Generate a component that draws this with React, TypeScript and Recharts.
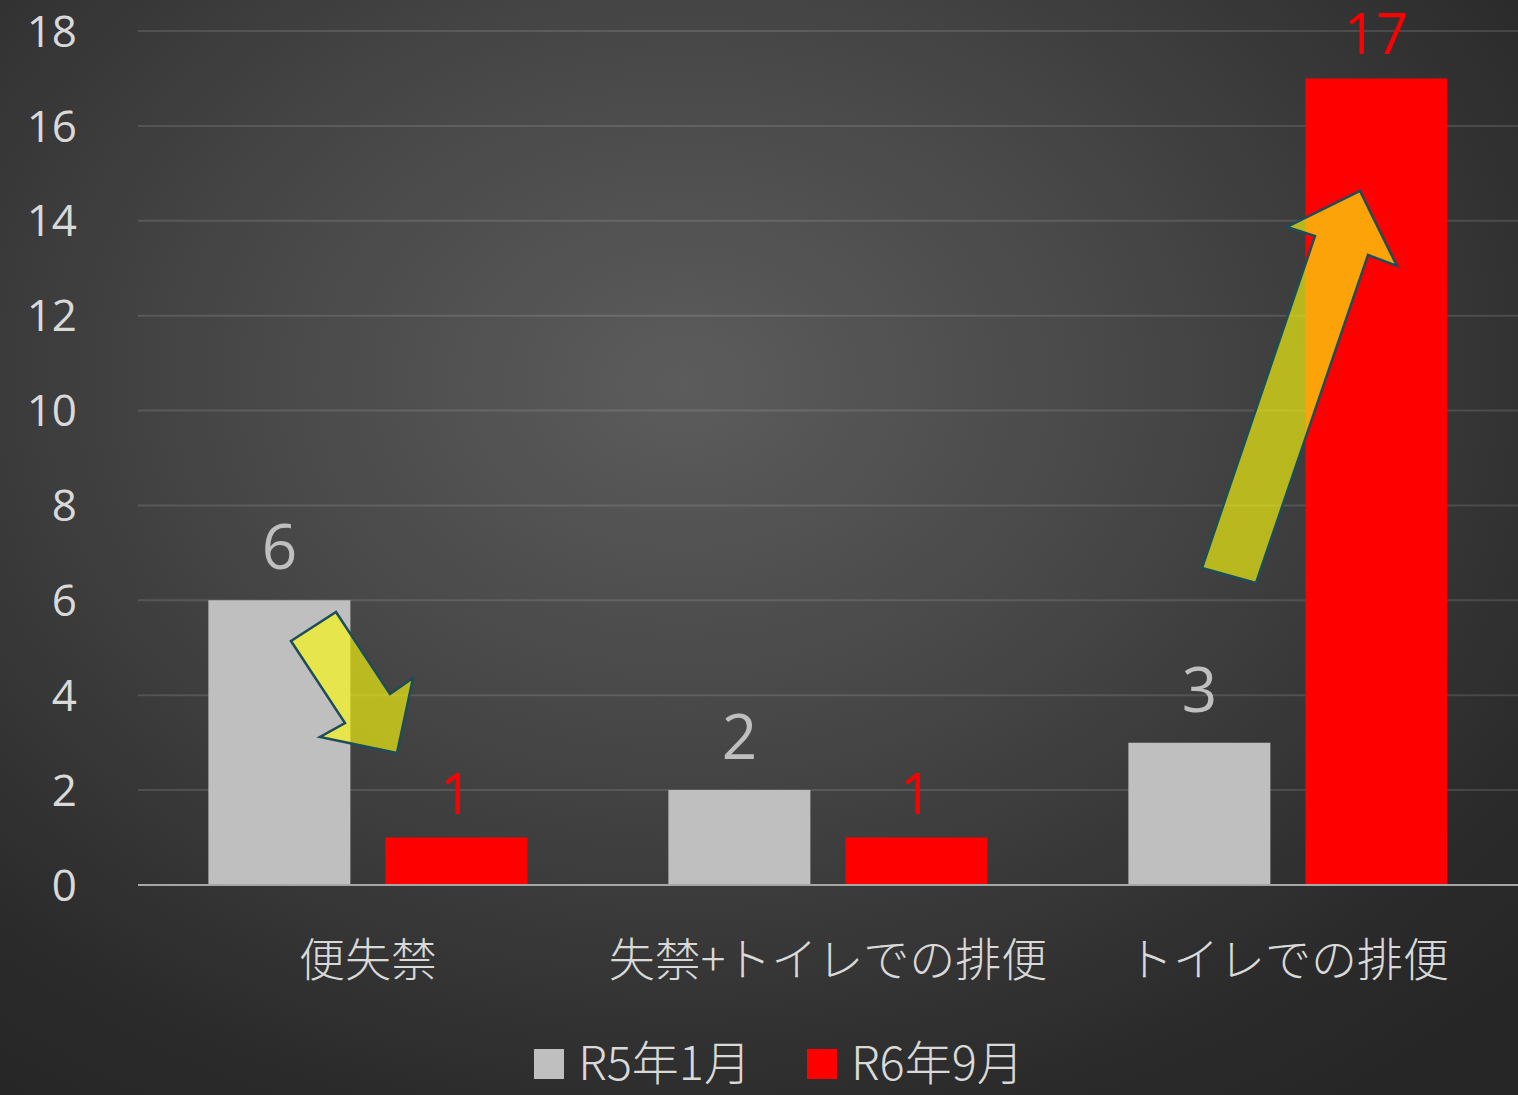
import { Bar, BarChart, CartesianGrid, LabelList, Legend, XAxis, YAxis } from "recharts";

const categories = ["便失禁", "失禁+トイレでの排便", "トイレでの排便"];
const r5Values = [6, 2, 3];
const r6Values = [1, 1, 17];
const yTicks = [0, 2, 4, 6, 8, 10, 12, 14, 16, 18];
const seriesNames = ["R5年1月", "R6年9月"];

const data = categories.map((name, i) => ({ name, r5: r5Values[i], r6: r6Values[i] }));

const W = 1518;
const H = 1095;
const cjk = "'Noto Sans CJK JP', 'Noto Sans', sans-serif";
const num = "'Open Sans', 'Noto Sans', sans-serif";
const gris = "#bfbfbf";
const rouge = "#ff0000";

function LegendeBas() {
  const items = [
    { label: seriesNames[0], color: gris },
    { label: seriesNames[1], color: rouge },
  ];
  return (
    <div style={{ display: "flex", justifyContent: "center", alignItems: "center", paddingLeft: 40, gap: 56, marginTop: 20 }}>
      {items.map((it) => (
        <div key={it.label} style={{ display: "flex", alignItems: "center", gap: 14 }}>
          <span style={{ width: 30, height: 30, background: it.color, display: "inline-block", marginTop: 8 }} />
          <span style={{ fontFamily: cjk, fontSize: 47, color: "#d9d9d9", fontWeight: 300 }}>{it.label}</span>
        </div>
      ))}
    </div>
  );
}

// flèches décoratives posées par-dessus le graphique
function Fleches() {
  const style = { fill: "rgba(250,250,14,0.65)", stroke: "#1e4d5a", strokeWidth: 2.5, strokeLinejoin: "miter" as const };
  return (
    <svg width={W} height={H} style={{ position: "absolute", left: 0, top: 0, pointerEvents: "none" }}>
      <polygon points="291,641 336,612 390,694 413,678 397,753 320,737 345,723" {...style} />
      <polygon points="1202,568 1256,583 1368,255 1397,266 1360,191 1287,227 1315,236" {...style} />
    </svg>
  );
}

export default function App() {
  return (
    <>
      <style>{"body{margin:0}"}</style>
      <div
        style={{
          position: "relative",
          width: W,
          height: H,
          background: "radial-gradient(ellipse 75% 80% at 45% 35%, #5c5c5c 0%, #474747 40%, #2b2b2b 85%, #262626 100%)",
          overflow: "hidden",
        }}
      >
        <BarChart
          width={W}
          height={H}
          data={data}
          margin={{ top: 31, right: 0, left: 0, bottom: 0 }}
          barGap={35}
          barCategoryGap="15.3%"
        >
          <CartesianGrid vertical={false} stroke="rgba(255,255,255,0.12)" strokeWidth={2} />
          <XAxis
            dataKey="name"
            height={120}
            tickLine={false}
            tickSize={0}
            tickMargin={58}
            axisLine={{ stroke: "#a6a6a6", strokeWidth: 2 }}
            tick={{ fill: "#d9d9d9", fontSize: 46, fontFamily: cjk, fontWeight: 300 }}
            interval={0}
          />
          <YAxis
            width={138}
            domain={[0, 18]}
            ticks={yTicks}
            axisLine={false}
            tickLine={false}
            tickSize={0}
            tickMargin={61}
            tick={{ fill: "#d9d9d9", fontSize: 44, fontFamily: num }}
          />
          <Legend verticalAlign="bottom" height={90} content={() => <LegendeBas />} />
          <Bar dataKey="r5" name={seriesNames[0]} fill={gris} isAnimationActive={false}>
            <LabelList dataKey="r5" position="top" offset={31} fill={gris} fontSize={62} fontFamily={num} />
          </Bar>
          <Bar dataKey="r6" name={seriesNames[1]} fill={rouge} isAnimationActive={false}>
            <LabelList dataKey="r6" position="top" offset={24} fill={rouge} fontSize={56} fontFamily={num} />
          </Bar>
        </BarChart>
        <Fleches />
      </div>
    </>
  );
}
